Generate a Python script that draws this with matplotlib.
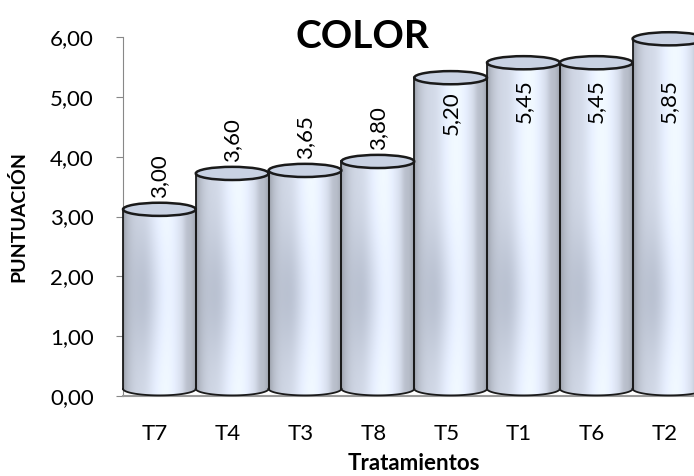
import numpy as np
import matplotlib
matplotlib.use("Agg")
import matplotlib.pyplot as plt
from matplotlib.patches import Ellipse, PathPatch
from matplotlib.path import Path

plt.rcParams['font.family'] = ['Lato', 'DejaVu Sans']

# data
tratamientos = ["T7", "T4", "T3", "T8", "T5", "T1", "T6", "T2"]
puntuacion = [3.00, 3.60, 3.65, 3.80, 5.20, 5.45, 5.45, 5.85]
yticks = [0, 1, 2, 3, 4, 5, 6]

fig = plt.figure(figsize=(6.94, 4.76), dpi=100)
ax = fig.add_axes([123 / 694, 80 / 476, 582.4 / 694, 359 / 476])
ax.set_xlim(-0.44, 7.56)
ax.set_ylim(0, 6)

# oblique 3d shift and ellipse half height (data units)
dx, dy = 0.06, 0.12
eh = 0.11
half = 0.5


def shade(ny, nx, y0, y1):
    # horizontal lighting profile across the cylinder
    u = np.linspace(0, 1, nx)
    light = (0.60 + 0.41 * np.sin(np.pi * u) ** 0.45
             - 0.05 * np.exp(-((u - 0.3) / 0.12) ** 2)
             + 0.04 * np.exp(-((u - 0.62) / 0.15) ** 2)
             - 0.05 * np.exp(-((u - 0.88) / 0.05) ** 2))
    ys = np.linspace(y1, y0, ny)
    band = np.exp(-((ys - 1.7) / 1.1) ** 2)
    weight = np.exp(-((u - 0.3) / 0.25) ** 2)
    dark = 0.18 * band[:, None] * weight[None, :]
    base = np.array([0.91, 0.94, 1.00])
    img = light[None, :, None] * base[None, None, :]
    tint = np.array([0.45, 0.52, 0.68])
    img = img * (1 - dark[..., None]) + tint * dark[..., None] * 0.6
    return np.clip(img, 0, 1)


for i, v in enumerate(puntuacion):
    cx = i + dx
    x0, x1 = cx - half, cx + half
    yb, yt = dy, v + dy
    # body outline: bottom half ellipse, sides, top edge
    th = np.linspace(np.pi, 2 * np.pi, 60)
    bx = cx + half * np.cos(th)
    by = yb + eh * np.sin(th)
    verts = list(zip(bx, by)) + [(x1, yt), (x0, yt), (x0, yb)]
    codes = [Path.MOVETO] + [Path.LINETO] * (len(verts) - 2) + [Path.CLOSEPOLY]
    body = PathPatch(Path(verts, codes), facecolor='none', edgecolor='none',
                     clip_on=False)
    ax.add_patch(body)
    im = ax.imshow(shade(200, 120, yb - eh, yt), extent=[x0, x1, yb - eh, yt],
                   aspect='auto', zorder=2, interpolation='bilinear')
    im.set_clip_path(body)
    ax.plot(bx, by, color='#1a1a1a', lw=1.3, zorder=3, clip_on=False)
    ax.plot([x0, x0], [yb, yt], color='#1a1a1a', lw=1.3, zorder=3, clip_on=False)
    ax.plot([x1, x1], [yb, yt], color='#1a1a1a', lw=1.3, zorder=3, clip_on=False)
    top = Ellipse((cx, yt), 2 * half, 2 * eh, facecolor='#c9d2e3',
                  edgecolor='#1a1a1a', lw=1.8, zorder=4, clip_on=False)
    ax.add_patch(top)

    # value labels, pushed inside when they would leave the plot area
    txt = f"{v:.2f}".replace(".", ",")
    if v + dy + eh + 0.95 > 6.0:
        ax.text(cx, min(v - 0.1, 5.3), txt, rotation=90, ha='center',
                va='top', fontsize=16, zorder=5)
    else:
        ax.text(cx, yt + eh + 0.08, txt, rotation=90, ha='center',
                va='bottom', fontsize=16, zorder=5)

ax.set_xticks(range(len(tratamientos)))
ax.set_xticklabels(tratamientos, fontsize=16)
ax.set_yticks(yticks)
ax.set_yticklabels([f"{t:.2f}".replace(".", ",") for t in yticks], fontsize=16)
ax.tick_params(axis='x', length=0, pad=20)
ax.tick_params(axis='y', length=5, color='#888888', pad=16)
for s in ['top', 'right']:
    ax.spines[s].set_visible(False)
ax.spines['left'].set_color('#888888')
ax.spines['bottom'].set_color('#999999')
ax.spines['bottom'].set_linewidth(1.5)

ax.set_xlabel("Tratamientos", fontsize=16, fontweight='bold')
ax.xaxis.set_label_coords(0.5, -57 / 359)
ax.yaxis.set_label_coords(-96 / 582.4, 0.5)
ax.set_ylabel("PUNTUACIÓN", fontsize=14, fontweight='bold')
fig.text(362 / 694, 1 - 37 / 476, "COLOR", ha='center', va='center',
         fontsize=28, fontweight='bold')

fig.savefig("out.png", dpi=100)
